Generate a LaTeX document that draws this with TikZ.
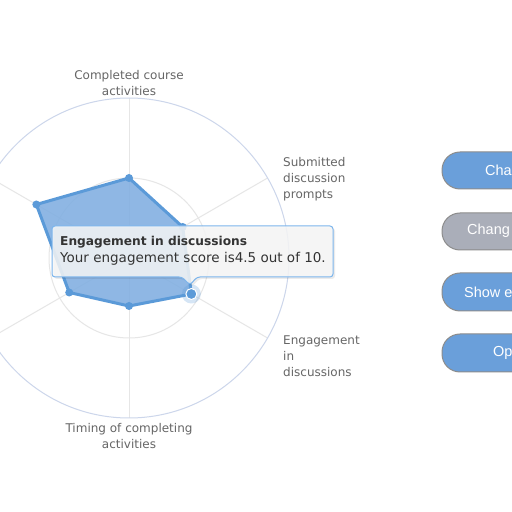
\documentclass[tikz,border=0pt]{standalone}
\usepackage{fontspec}
\setmainfont{DejaVu Sans}
\newfontfamily\btnfont{Liberation Sans}
\usetikzlibrary{positioning}

\definecolor{axisgray}{HTML}{E6E6E6}
\definecolor{ringblue}{HTML}{CCD6EB}
\definecolor{seriesline}{HTML}{5B9AD8}
\definecolor{seriesfill}{HTML}{80AEE1}
\definecolor{labelgray}{HTML}{666666}
\definecolor{tipborder}{HTML}{7CB5EC}
\definecolor{tipfill}{HTML}{F7F7F7}
\definecolor{tiptext}{HTML}{333333}
\definecolor{btnblue}{HTML}{6A9FDA}
\definecolor{btngray}{HTML}{AAAEB9}
\definecolor{btnedge}{HTML}{8C8C8C}

\begin{document}
\begin{tikzpicture}[x=1pt, y=1pt,
axis/.style={draw=axisgray, line width=1pt},
axislabel/.style={text=labelgray, font=\fontsize{12}{16}\selectfont, inner sep=0pt},
marker/.style={circle, fill=seriesline, inner sep=0pt, minimum size=8pt},
pill/.style={draw=btnedge, line width=1pt, rounded corners=18pt},
btntext/.style={text=white, font=\btnfont\fontsize{14.5}{16}\selectfont, anchor=west, inner sep=0pt},
tipline/.style={text=tiptext, font=\fontsize{13.5}{15}\selectfont, inner sep=0pt, text height=9.5pt, text depth=3pt},
]
\useasboundingbox (0,0) rectangle (512,512);
\fill[white] (0,0) rectangle (512,512);
\clip (0,0) rectangle (512,512);

% radar grid and series
\begin{scope}[shift={(129,254)}]
\coordinate (c) at (0,0);
\foreach \a in {30,90,...,330}
  \draw[axis] (c) -- (\a:160);
\draw[axis] (c) circle (80);
\draw[draw=ringblue, line width=1pt] (c) circle (160);
\coordinate (p1) at (90:80);
\coordinate (p2) at (30:62);
\coordinate (p3) at (-30:72);
\coordinate (p4) at (-90:48);
\coordinate (p5) at (210:69);
\coordinate (p6) at (150:107);
\end{scope}
\draw[fill=seriesfill, fill opacity=0.88, draw=seriesline, line width=3pt, line join=round]
  (p1) -- (p2) -- (p3) -- (p4) -- (p5) -- (p6) -- cycle;
\foreach \p in {p1,p2,p4,p5,p6}
  \node[marker] (m\p) at (\p) {};
\fill[seriesline, opacity=0.25] (p3) circle (9.5);
\node[marker, draw=white, line width=1pt, minimum size=11pt] (mp3) at (p3) {};

% axis labels
\node[axislabel, align=center] (labtop) at (129,429) {Completed course\\activities};
\node[axislabel, align=left, anchor=west] (labsubm) at (283,333) {Submitted\\discussion\\prompts};
\node[axislabel, align=left, anchor=west] (labeng) at (283,156) {Engagement\\in\\discussions};
\node[axislabel, align=center] (labtime) at (129,75.5) {Timing of completing\\activities};

% tooltip
\fill[black, opacity=0.08, rounded corners=3pt]
  (54,284) -- (335,284) -- (335,233) -- (199,233) -- (192,225) -- (184,233) -- (54,233) -- cycle;
\draw[tipborder, fill=tipfill, fill opacity=0.85, line width=1pt, rounded corners=3pt]
  (52,286) -- (333,286) -- (333,235) -- (197,235) -- (190,227) -- (182,235) -- (52,235) -- cycle;
\node[tipline, font=\bfseries\fontsize{12.2}{15}\selectfont, anchor=west] (tiptitle) at (60,270) {Engagement in discussions};
\node[tipline, below=4.5pt of tiptitle.south west, anchor=north west] (tipbody) {Your engagement score is4.5 out of 10.};

% buttons
\draw[pill, fill=btnblue] (442,323) rectangle (620,360);
\draw[pill, fill=btngray] (442,262) rectangle (620,299);
\draw[pill, fill=btnblue] (442,201) rectangle (620,239);
\draw[pill, fill=btnblue] (442,140) rectangle (620,178);
\node[btntext] (btn1) at (485,342) {Cha};
\node[btntext] (btn2) at (467,281) {Chang};
\node[btntext] (btn3) at (464,220) {Show e};
\node[btntext] (btn4) at (493,159) {Op};
\end{tikzpicture}
\end{document}
